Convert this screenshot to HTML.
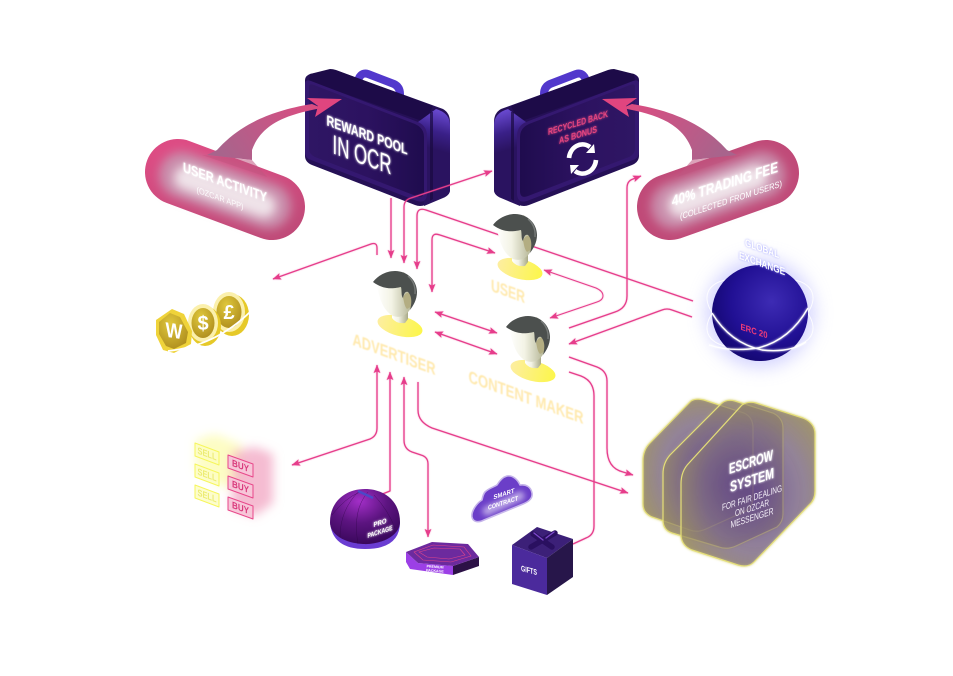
<!DOCTYPE html>
<html><head><meta charset="utf-8"><style>
html,body{margin:0;padding:0;background:#fff;width:953px;height:676px;overflow:hidden}
svg{display:block}
text{font-family:"Liberation Sans",sans-serif;text-anchor:middle}
</style></head><body>
<svg width="953" height="676" viewBox="0 0 953 676" xmlns="http://www.w3.org/2000/svg">
<defs>
<filter id="b1" filterUnits="userSpaceOnUse" x="0" y="0" width="953" height="676"><feGaussianBlur stdDeviation="1"/></filter>
<filter id="b05" filterUnits="userSpaceOnUse" x="0" y="0" width="953" height="676"><feGaussianBlur stdDeviation=".45"/></filter>
<filter id="b3" filterUnits="userSpaceOnUse" x="0" y="0" width="953" height="676"><feGaussianBlur stdDeviation="3"/></filter>
<filter id="b5" filterUnits="userSpaceOnUse" x="0" y="0" width="953" height="676"><feGaussianBlur stdDeviation="5"/></filter>
<filter id="b9" filterUnits="userSpaceOnUse" x="0" y="0" width="953" height="676"><feGaussianBlur stdDeviation="9"/></filter>
<filter id="glow" filterUnits="userSpaceOnUse" x="0" y="0" width="953" height="676"><feGaussianBlur stdDeviation="1" result="a"/><feMerge><feMergeNode in="a"/><feMergeNode in="SourceGraphic"/></feMerge></filter>
<filter id="lg" filterUnits="userSpaceOnUse" x="0" y="0" width="953" height="676"><feGaussianBlur stdDeviation=".9" result="a"/><feComponentTransfer in="a" result="c"><feFuncA type="linear" slope=".45"/></feComponentTransfer><feMerge><feMergeNode in="c"/><feMergeNode in="SourceGraphic"/></feMerge></filter>
<filter id="esc" filterUnits="userSpaceOnUse" x="0" y="0" width="953" height="676"><feGaussianBlur stdDeviation="1.3" result="a"/><feMerge><feMergeNode in="a"/><feMergeNode in="SourceGraphic"/></feMerge></filter>
<marker id="ah" viewBox="0 0 10 8" refX="9.5" refY="4" markerWidth="8.5" markerHeight="7" markerUnits="userSpaceOnUse" orient="auto-start-reverse"><path d="M0 0L10 4L0 8L2 4Z" fill="#e63d8b"/></marker>
<linearGradient id="case" x1="0" y1="0" x2="1" y2="0"><stop offset="0" stop-color="#2f1664"/><stop offset=".5" stop-color="#2c1260"/><stop offset="1" stop-color="#1f0c4e"/></linearGradient>
<linearGradient id="side" gradientUnits="userSpaceOnUse" x1="447" y1="112" x2="436" y2="150"><stop offset="0" stop-color="#6a4ad2"/><stop offset=".55" stop-color="#3a2088"/><stop offset="1" stop-color="#2a1360"/></linearGradient>
<linearGradient id="tail" gradientUnits="userSpaceOnUse" x1="230" y1="165" x2="320" y2="100"><stop offset="0" stop-color="#a8648c"/><stop offset="1" stop-color="#df4a80"/></linearGradient>
<linearGradient id="tail2" gradientUnits="userSpaceOnUse" x1="714" y1="165" x2="624" y2="100"><stop offset="0" stop-color="#a8648c"/><stop offset="1" stop-color="#df4a80"/></linearGradient>
<linearGradient id="pillg" gradientUnits="userSpaceOnUse" x1="215" y1="140" x2="235" y2="240"><stop offset="0" stop-color="#dd4c84"/><stop offset="1" stop-color="#c04a78"/></linearGradient>
<linearGradient id="face" x1="0" y1="0" x2="1" y2="0"><stop offset="0" stop-color="#fff"/><stop offset=".4" stop-color="#f3f3e5"/><stop offset="1" stop-color="#a8a986"/></linearGradient>
<linearGradient id="shirt" x1="0" y1="0" x2="1" y2="0"><stop offset="0" stop-color="#fdeea0"/><stop offset="1" stop-color="#fcf64a"/></linearGradient>
<radialGradient id="globe" cx=".62" cy=".38" r=".7"><stop offset="0" stop-color="#3d2bb4"/><stop offset=".6" stop-color="#211094"/><stop offset="1" stop-color="#12066c"/></radialGradient>
<radialGradient id="dome" cx=".42" cy=".22" r=".8"><stop offset="0" stop-color="#a32fc8"/><stop offset=".5" stop-color="#5c1480"/><stop offset="1" stop-color="#38075a"/></radialGradient>
<radialGradient id="gold" cx=".4" cy=".3" r=".85"><stop offset="0" stop-color="#e0c83c"/><stop offset="1" stop-color="#a8861a"/></radialGradient>
<radialGradient id="esc1" cx=".55" cy=".55" r=".62"><stop offset="0" stop-color="#5b3d85" stop-opacity=".58"/><stop offset=".6" stop-color="#7f6c84" stop-opacity=".6"/><stop offset="1" stop-color="#9c9060" stop-opacity=".76"/></radialGradient>
<g id="person">
<ellipse cx="400" cy="326" rx="23" ry="10" transform="rotate(14 400 326)" fill="url(#shirt)"/>
<path d="M392 310L392 318Q396 324 405 323L408 319L408 306Z" fill="url(#face)"/>
<path d="M376 284L380 298Q384 311 393 316Q403 319 409 311Q415 303 415 292L404 272Z" fill="url(#face)"/>
<path d="M407 309C404 306 404 300 403 298C405 291 411 292 413 296L412 306Z" fill="#b3ad82"/>
<path d="M373 282C378 275 387 271 395 271C408 271 417 281 417 292C417 300 413 306 410 310C412 303 412 296 408 292C405 291 404 294 403 298C401 296 402 291 401 287C396 288 385 291 373 282Z" fill="#4c504e"/>
<path d="M408 276Q416 283 415 294" fill="none" stroke="#8a8d8b" stroke-width="1.4" opacity=".7"/>
</g>
<g id="caseg">
<path d="M356 88L359 78Q362 72 368 74L394 84Q400 87 400 94V102" fill="none" stroke="#5238cc" stroke-width="8" stroke-linejoin="round"/>
<path d="M305 80Q305 76 310 74L328 71Q333 69 338 71L443 109Q450 113 450 122V190Q450 194 445 197L425 205Q420 207 415 205L312 165Q305 162 305 156Z" fill="#251056"/>
<path d="M310 74L330 69Q333 69 336 70L433 106L425 122L309 81Z" fill="#1d0b48"/>
<path d="M418 122L436 109Q450 113 450 125V190Q450 195 443 198L424 206Z" fill="url(#side)"/>
<path d="M430 112L433 112L433 199L430 201Z" fill="#1a0a40" opacity=".7"/>
<path d="M305 84Q305 79 311 81L418 122Q427 126 427 136V193Q427 204 417 201L311 160Q305 158 305 152Z" fill="#341870"/>
<path d="M309 87Q309 83 314 85L415 124Q424 128 424 137V191Q424 199 416 196L315 157Q309 154 309 149Z" fill="url(#case)"/>
</g>
</defs>

<!-- briefcases -->
<use href="#caseg"/>
<g transform="translate(944 0) scale(-1 1)"><use href="#caseg"/></g>

<!-- connectors -->
<g fill="none" stroke="#e63d8b" stroke-width="1.3" filter="url(#lg)" stroke-linejoin="round">
<path d="M391 198V258" marker-end="url(#ah)"/>
<path d="M404 263V207Q404 200 411 198L492 171" marker-start="url(#ah)" marker-end="url(#ah)"/>
<path d="M417 269V216Q417 207 426 210L693 301" marker-start="url(#ah)"/>
<path d="M432 292V240Q432 232 440 235L495 253" marker-start="url(#ah)" marker-end="url(#ah)"/>
<path d="M377 255V248Q377 242 371 244L273 279" marker-end="url(#ah)"/>
<path d="M435 312L497 333" marker-start="url(#ah)" marker-end="url(#ah)"/>
<path d="M435 332L497 354" marker-start="url(#ah)" marker-end="url(#ah)"/>
<path d="M544 270L596 288Q603 291 603 296Q603 300 597 302L550 318" stroke-width="1" marker-start="url(#ah)" marker-end="url(#ah)"/>
<path d="M569 328L615 312Q627 308 627 296V188Q627 181 633 179L641 176" marker-end="url(#ah)"/>
<path d="M692 317L672 310Q667 308 662 310L569 344" marker-end="url(#ah)"/>
<path d="M569 357L597 367Q607 371 607 381V448Q607 468 623 472L633 475" marker-end="url(#ah)"/>
<path d="M569 372L581 376Q594 381 594 396V526Q594 535 586 538L573 544"/>
<path d="M418 382V410Q418 422 432 428L628 493" marker-end="url(#ah)"/>
<path d="M377 365V428Q377 436 370 439L292 465" marker-start="url(#ah)" marker-end="url(#ah)"/>
<path d="M390 372V491L380 495" marker-start="url(#ah)"/>
<path d="M404 377V440Q404 449 412 452L421 455Q428 457 428 464V537" marker-start="url(#ah)" marker-end="url(#ah)"/>
</g>

<g filter="url(#glow)" fill="#fff" font-weight="700">
<text transform="translate(367 135) skewY(20)" y="5" font-size="15" textLength="81" lengthAdjust="spacingAndGlyphs">REWARD POOL</text>
<text transform="translate(362 155) skewY(20)" y="9" font-size="27" font-weight="400" textLength="59" lengthAdjust="spacingAndGlyphs">IN OCR</text>
</g>
<g fill="#e3457f" font-weight="700" filter="url(#glow)">
<text transform="translate(578 123) skewY(-17)" y="3" font-size="9.5" textLength="60" lengthAdjust="spacingAndGlyphs">RECYCLED BACK</text>
<text transform="translate(578 135) skewY(-17)" y="3" font-size="9.5" textLength="38" lengthAdjust="spacingAndGlyphs">AS BONUS</text>
</g>
<g fill="none" stroke="#fff" stroke-width="4.6">
<path d="M569 158A13.5 15 0 0 1 590 147"/>
<path d="M596 160A13.5 15 0 0 1 575 171"/>
</g>
<path d="M586 153L595 153L594 144Z M579 165L570 165L571 174Z" fill="#fff"/>

<!-- pills -->
<path d="M178 172L272 207" stroke="url(#pillg)" stroke-width="66" stroke-linecap="round" fill="none"/>
<path d="M182 175L268 206" stroke="#c98dab" stroke-width="46" stroke-linecap="round" fill="none" filter="url(#b5)"/>
<path d="M186 178L264 206" stroke="#efe3e9" stroke-width="24" stroke-linecap="round" fill="none" filter="url(#b5)"/>
<path d="M670 207L766 173" stroke="url(#pillg)" stroke-width="66" stroke-linecap="round" fill="none"/>
<path d="M674 206L762 175" stroke="#c98dab" stroke-width="46" stroke-linecap="round" fill="none" filter="url(#b5)"/>
<path d="M680 205L756 177" stroke="#efe3e9" stroke-width="24" stroke-linecap="round" fill="none" filter="url(#b5)"/>

<path d="M202 155L252 160L267 177Z" fill="#c0557f" opacity=".55"/>
<path d="M742 155L692 160L677 177Z" fill="#c0557f" opacity=".55"/>
<path d="M207 155L217 150C235 130 262 112 312 104L322 108C290 114 262 122 252 150V160Z" fill="url(#tail)"/>
<path d="M307 98L342 99L315 117L318 106Z" fill="#e0457f"/>
<path d="M737 155L727 150C709 130 682 112 632 104L622 108C654 114 682 122 692 150V160Z" fill="url(#tail2)"/>
<path d="M637 98L602 99L629 117L626 106Z" fill="#e0457f"/>

<g fill="#fff" filter="url(#glow)" font-weight="700">
<text transform="translate(225 182) skewY(20)" y="5" font-size="14" textLength="84" lengthAdjust="spacingAndGlyphs">USER ACTIVITY</text>
<text transform="translate(725 184) skewY(-18)" y="5" font-size="15" textLength="106" lengthAdjust="spacingAndGlyphs">40% TRADING FEE</text>
</g>
<g fill="#fff">
<text transform="translate(220 198) skewY(20)" y="3" font-size="8.5" opacity=".9" textLength="47" lengthAdjust="spacingAndGlyphs">(OZCAR APP)</text>
<text transform="translate(731 200) skewY(-18)" y="3" font-size="9" textLength="102" lengthAdjust="spacingAndGlyphs">(COLLECTED FROM USERS)</text>
</g>

<!-- people -->
<use href="#person"/>
<use href="#person" transform="translate(120 -57)"/>
<use href="#person" transform="translate(133 45)"/>
<g fill="#ffe9ae" font-weight="700" filter="url(#b05)">
<text transform="translate(508 291) skewY(20)" y="6" font-size="17" textLength="34" lengthAdjust="spacingAndGlyphs">USER</text>
<text transform="translate(394 354) skewY(20)" y="6" font-size="17" textLength="83" lengthAdjust="spacingAndGlyphs">ADVERTISER</text>
<text transform="translate(526 397) skewY(20)" y="6" font-size="17" textLength="115" lengthAdjust="spacingAndGlyphs">CONTENT MAKER</text>
</g>

<!-- globe -->
<circle cx="760" cy="313" r="54" fill="#b4b4ff" opacity=".6" filter="url(#b9)"/>
<g fill="none" stroke="#fff" stroke-width="1" opacity=".9">
<ellipse cx="760" cy="313" rx="56" ry="29" transform="rotate(22 760 313)"/>
<ellipse cx="760" cy="313" rx="56" ry="29" transform="rotate(-22 760 313)"/>
</g>
<circle cx="760" cy="313" r="48" fill="url(#globe)"/>
<g fill="none" stroke="#fff" stroke-width="1.4" filter="url(#glow)">
<path d="M712 313Q730 343 762 350Q790 353 806 342"/>
<path d="M808 308Q790 340 758 348Q730 352 709 345"/>
</g>
<text transform="translate(754 331) skewY(18)" y="3" font-size="9" font-weight="700" fill="#ee3a78" textLength="27" lengthAdjust="spacingAndGlyphs">ERC 20</text>
<g font-weight="700" font-size="10.5">
<g fill="#9ea0ff" filter="url(#b1)">
<text transform="translate(762 249) skewY(20)" y="3" textLength="34" lengthAdjust="spacingAndGlyphs">GLOBAL</text>
<text transform="translate(762 264) skewY(20)" y="3" textLength="46" lengthAdjust="spacingAndGlyphs">EXCHANGE</text>
</g>
<g fill="#fff">
<text transform="translate(762 249) skewY(20)" y="3" textLength="34" lengthAdjust="spacingAndGlyphs">GLOBAL</text>
<text transform="translate(762 264) skewY(20)" y="3" textLength="46" lengthAdjust="spacingAndGlyphs">EXCHANGE</text>
</g>
</g>

<!-- escrow -->
<g stroke="#e5df78" stroke-width="1.2" fill="url(#esc1)" filter="url(#esc)">
<path d="M691 401Q696 398 704 400L744 413Q753 417 753 428V497Q753 505 748 510L706 529Q697 533 690 530L652 517Q643 513 643 504V461Q643 450 650 443Z"/>
<path d="M722 403Q727 399 735 401L773 413Q783 418 783 428V514Q783 522 777 527L736 546Q727 550 719 547L672 533Q663 530 663 520V474Q663 463 670 455Z"/>
<path d="M742 405Q748 401 756 403L803 418Q815 423 815 434V491Q815 500 809 505L754 562Q748 568 738 565L692 550Q682 546 681 536V484Q681 471 689 463Z"/>
</g>
<g fill="#fff" filter="url(#glow)" font-weight="700">
<text transform="translate(751 462) skewY(-18)" y="5" font-size="15" textLength="44" lengthAdjust="spacingAndGlyphs">ESCROW</text>
<text transform="translate(752 480) skewY(-18)" y="5" font-size="15" textLength="44" lengthAdjust="spacingAndGlyphs">SYSTEM</text>
</g>
<g fill="#f4eff8" font-size="9.5">
<text transform="translate(752 498) skewY(-18)" y="3" textLength="60" lengthAdjust="spacingAndGlyphs">FOR FAIR DEALING</text>
<text transform="translate(752 508) skewY(-18)" y="3" textLength="34" lengthAdjust="spacingAndGlyphs">ON OZCAR</text>
<text transform="translate(752 518) skewY(-18)" y="3" textLength="43" lengthAdjust="spacingAndGlyphs">MESSENGER</text>
</g>

<!-- coins -->
<ellipse cx="232" cy="315" rx="17" ry="21" fill="#e6c928"/>
<ellipse cx="229" cy="312" rx="16" ry="20" fill="#fbf0ac"/>
<ellipse cx="229" cy="312" rx="12.5" ry="16" fill="url(#gold)"/>
<ellipse cx="205" cy="326" rx="16" ry="20" fill="#e6c928"/>
<ellipse cx="203" cy="323" rx="15" ry="19" fill="#fbf0ac"/>
<ellipse cx="203" cy="323" rx="11.5" ry="15" fill="url(#gold)"/>
<path d="M156 320L172 309L184 314L192 331L191 344L174 353L163 350L156 335Z" fill="#efd33a"/>
<path d="M159 322L170 313L180 317L188 332L186 343L174 349L166 346L159 334Z" fill="url(#gold)"/>
<g fill="#fff" font-weight="700">
<text transform="translate(174 338) skewY(8)" font-size="21" textLength="17" lengthAdjust="spacingAndGlyphs">W</text>
<text x="203" y="330" font-size="20">$</text>
<text x="229" y="319" font-size="20">£</text>
</g>
<path d="M168 351Q215 346 250 312" fill="none" stroke="#fff" stroke-width="1.8"/>

<!-- sell / buy -->
<g filter="url(#b5)">
<path d="M196 440L215 434L242 445L242 480L225 488L196 470Z" fill="#fbfb9c" opacity=".6"/>
<path d="M232 452L255 447L273 454L273 503L255 516L232 508Z" fill="#f2a6c2" opacity=".75"/>
</g>
<g fill="#fcfcc0" fill-opacity=".8" stroke="#f6f65c" stroke-width="1" stroke-linejoin="round">
<path d="M195 443L219 452V465L195 456Z"/>
<path d="M195 464L219 473V486L195 477Z"/>
<path d="M195 485L219 494V507L195 498Z"/>
</g>
<g fill="#f7c6d8" stroke="#e8478a" stroke-width="1" stroke-linejoin="round">
<path d="M228 455L253 464V477L228 468Z"/>
<path d="M228 476L253 485V498L228 489Z"/>
<path d="M228 497L253 506V519L228 510Z"/>
</g>
<g font-size="9.5" font-weight="700" fill="#ecec74">
<text transform="translate(207 454) skewY(20)" y="3" textLength="19" lengthAdjust="spacingAndGlyphs">SELL</text>
<text transform="translate(207 475) skewY(20)" y="3" textLength="19" lengthAdjust="spacingAndGlyphs">SELL</text>
<text transform="translate(207 496) skewY(20)" y="3" textLength="19" lengthAdjust="spacingAndGlyphs">SELL</text>
</g>
<g font-size="9.5" font-weight="700" fill="#d93a7c">
<text transform="translate(240.500 466) skewY(20)" y="3" textLength="17" lengthAdjust="spacingAndGlyphs">BUY</text>
<text transform="translate(240.500 487) skewY(20)" y="3" textLength="17" lengthAdjust="spacingAndGlyphs">BUY</text>
<text transform="translate(240.500 508) skewY(20)" y="3" textLength="17" lengthAdjust="spacingAndGlyphs">BUY</text>
</g>

<!-- dome -->
<path d="M330 522Q332 549 365 549Q400 549 400 522Z" fill="#6a3cd2"/>
<path d="M330 522C330 502 345 489 365 489C385 489 400 502 400 522C400 535 382 545 363 544C345 543 330 535 330 522Z" fill="url(#dome)"/>
<g fill="none" stroke="#2c0644" stroke-width=".5" opacity=".6">
<path d="M359 491Q340 510 340 537"/><path d="M368 492Q352 510 358 544"/><path d="M374 495Q388 510 395 528"/><path d="M332 515Q345 498 360 492"/>
</g>
<path d="M358 491L373 498" stroke="#4c48c8" stroke-width="2.4"/>
<g fill="#fff" font-weight="700" font-size="7" filter="url(#glow)">
<text transform="translate(380 523) skewY(-18)" y="2" textLength="13" lengthAdjust="spacingAndGlyphs">PRO</text>
<text transform="translate(380 532) skewY(-18)" y="2" textLength="25" lengthAdjust="spacingAndGlyphs">PACKAGE</text>
</g>

<!-- cloud -->
<path d="M472 517C471 511 477 503 482 500C483 495 484 493 485 492C489 488 494 487 497 485C500 480 503 477 507 476C513 475 518 480 520 485C526 484 531 487 532 493C533 499 528 502 523 504L484 520C478 523 473 522 472 517Z" fill="#6b3ec8" stroke="#c5b4ea" stroke-width="1.6" stroke-linejoin="round"/>
<path d="M487 511L520 496" stroke="#e8e0f8" stroke-width="9" stroke-linecap="round" filter="url(#b3)" opacity=".65"/>
<g fill="#fff" font-weight="700" font-size="6.5">
<text transform="translate(504 494) skewY(-18)" y="2" textLength="21" lengthAdjust="spacingAndGlyphs">SMART</text>
<text transform="translate(503 503) skewY(-18)" y="2" textLength="30" lengthAdjust="spacingAndGlyphs">CONTRACT</text>
</g>

<!-- premium -->
<path d="M406 552V562L410 569L453 575L453 566L418 563Z" fill="#9c3fe6"/>
<path d="M453 566L479 557V566L453 575Z" fill="#2c1146"/>
<path d="M406 552L432 542L468 544L479 557L453 566L418 563Z" fill="#6c2a9e"/>
<path d="M414 552L433 545L464 547L471 556L451 562L423 560Z" fill="none" stroke="#e0458c" stroke-width=".6"/>
<path d="M419 552L434 548L460 549L465 555L449 559L427 557Z" fill="none" stroke="#e0458c" stroke-width=".6"/>
<g fill="#fff" font-weight="700" font-size="3.6">
<text x="435" y="568" transform="rotate(4 435 568)">PREMIUM</text>
<text x="435" y="572" transform="rotate(4 435 570)">PACKAGE</text>
</g>

<!-- gift -->
<path d="M512 545L537 527L573 539L547 558Z" fill="#3c2078"/>
<path d="M512 545L547 558V595L512 584Z" fill="#4b2a9c"/>
<path d="M547 558L573 539V577L547 595Z" fill="#27164a"/>
<g fill="none" stroke="#2a1060" stroke-width="5.5" stroke-linecap="round"><path d="M533 534L552 547"/><path d="M531 547L555 533"/></g>
<g fill="none" stroke="#7b47c8" stroke-width="1.4" stroke-linecap="round"><path d="M534 533L543 540"/><path d="M546 538L554 532"/></g>
<text transform="translate(529 570) skewY(15)" y="3" font-size="8" font-weight="700" fill="#fff" textLength="16" lengthAdjust="spacingAndGlyphs">GIFTS</text>
</svg>
</body></html>
